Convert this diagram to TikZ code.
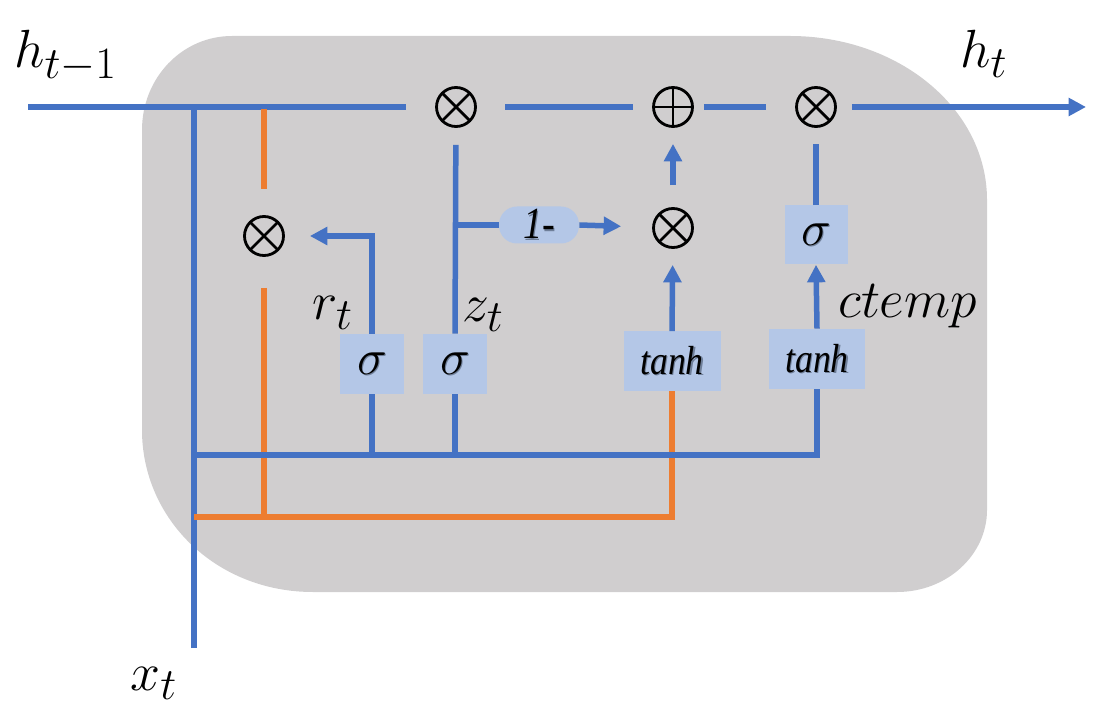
\documentclass[tikz,border=0pt]{standalone}
\usepackage{graphicx}
\usepackage{fontspec}
\setmainfont{Liberation Serif}
\usetikzlibrary{arrows.meta,calc}
\definecolor{lblue}{HTML}{4472C4}
\definecolor{lorange}{HTML}{ED7D31}
\definecolor{boxfill}{HTML}{B4C7E7}
\definecolor{cellgray}{HTML}{D0CECF}
\definecolor{shadowcol}{HTML}{6F7F99}
\newcommand{\biglbl}[1]{\scalebox{1.23}{$#1$}}
\newcommand{\shadowed}[1]{\makebox[0pt][l]{\raisebox{-0.9pt}{\hspace{0.9pt}\textcolor{shadowcol}{#1}}}#1}
\newcommand{\sig}{\shadowed{\scalebox{1.15}{$\sigma$}}}
\tikzset{
  wire/.style={draw=lblue,line width=0.11cm},
  owire/.style={draw=lorange,line width=0.11cm},
  arr/.style={-{Triangle[length=0.35cm,width=0.35cm]}},
  opnode/.style={circle,draw=black,line width=1.6pt,minimum size=0.78cm,inner sep=0pt},
  mult/.style={opnode,path picture={
      \draw[line width=1.6pt] (path picture bounding box.north west) -- (path picture bounding box.south east)
        (path picture bounding box.north east) -- (path picture bounding box.south west);}},
  plus/.style={opnode,path picture={
      \draw[line width=1.6pt] (path picture bounding box.north) -- (path picture bounding box.south)
        (path picture bounding box.east) -- (path picture bounding box.west);}},
  gatebox/.style={fill=boxfill,inner sep=0pt,font=\fontsize{21}{23}\selectfont\itshape},
  sigbox/.style={gatebox,font=\fontsize{24.88}{27}\selectfont},
  lbl/.style={inner sep=0pt,font=\fontsize{24.88}{27}\selectfont},
}
\begin{document}
\begin{tikzpicture}[x=0.02cm,y=-0.02cm]
\useasboundingbox (0,0) rectangle (1104,712);
% cell background
\fill[cellgray] (142,130) .. controls (142,78) and (182,36) .. (232,36)
  -- (790,36) .. controls (899,36) and (987,109) .. (987,200)
  -- (987,510) .. controls (987,555) and (947,592) .. (897,592)
  -- (313,592) .. controls (216,592) and (142,519) .. (142,430) -- cycle;

% operator nodes
\node[mult] (m1) at (456,107) {};
\node[plus] (add) at (673,107) {};
\node[mult] (m3) at (816,107) {};
\node[mult] (mr) at (264,236) {};
\node[mult] (m2) at (673,228) {};

% gate boxes
\node[sigbox,minimum width=64*0.02cm,minimum height=60*0.02cm] (sr) at (372,364) {\sig};
\node[sigbox,minimum width=64*0.02cm,minimum height=60*0.02cm] (sz) at (455,364) {\sig};
\node[gatebox,minimum width=97*0.02cm,minimum height=59*0.02cm] (th1) at (672,361) {\shadowed{\scalebox{0.97}[1.1]{tanh}}};
\node[gatebox,minimum width=96*0.02cm,minimum height=60*0.02cm] (th2) at (817,359) {\shadowed{\scalebox{0.97}[1.1]{tanh}}};
\node[sigbox,minimum width=63*0.02cm,minimum height=59*0.02cm] (so) at (816,235) {\sig};
\node[gatebox,font=\fontsize{23}{25}\selectfont\itshape,rounded corners=0.36cm,minimum width=80*0.02cm,minimum height=37*0.02cm] (one) at (539,225) {\shadowed{\scalebox{0.95}[1.1]{1-}}};

% labels
\node[lbl,anchor=base west] (lh1) at (14,68) {\biglbl{h_{t-1}}};
\node[lbl,anchor=base west] (lh) at (960,68) {\biglbl{h_t}};
\node[lbl,anchor=base west] (lr) at (312,320) {\biglbl{r_t}};
\node[lbl,anchor=base west] (lz) at (462,322) {\biglbl{z_t}};
\node[lbl,anchor=base west] (lx) at (130,690) {\biglbl{x_t}};
\node[lbl,anchor=base west] (lc) at (838,318) {\biglbl{ctemp}};

% free-end coordinates
\coordinate (hin) at (28,107);
\coordinate (hout) at (1086,107);
\coordinate (xin) at (194,648);
\coordinate (xtop) at (194,107);
\coordinate (otop) at (264,109);
\coordinate (obot) at (264,517);
\coordinate (oleft) at (194,517);
\coordinate (bleft) at (194,455);
\coordinate (zbr) at (455,225);

% top line
\draw[wire,shorten >=0.58cm] (hin) -- (m1);
\draw[wire,shorten <=0.57cm,shorten >=0.38cm] (m1) -- (add);
\draw[wire,shorten <=0.2cm,shorten >=0.58cm] (add) -- (m3);
\draw[wire,arr,shorten <=0.3cm] (m3) -- (hout);

% x_t input
\draw[wire] (xin) -- (xtop);

% reset gate
\draw[wire,arr,shorten >=0.5cm] (sr.north) |- (mr);
\draw[wire] (sr.south) -- (sr.south |- bleft);

% update gate
\draw[wire,shorten >=0.34cm] (sz.north) -- (m1);
\draw[wire] (sz.south) -- (sz.south |- bleft);
\draw[wire] (zbr) -- (one.west);
\draw[wire,arr,shorten >=0.62cm] (one.east) -- (m2);
\draw[wire,arr,shorten <=0.44cm,shorten >=0.32cm] (m2) -- (add);

% candidate
\draw[wire,arr,shorten >=0.32cm] (th1.north) -- (m2);
\draw[owire,shorten >=0.52cm] (otop) -- (mr);
\draw[owire,shorten <=0.62cm] (mr) -- (obot);
\draw[owire] (oleft) -| (th1.south);

% output gate
\draw[wire,arr] (th2.north) -- (so.south);
\draw[wire,shorten >=0.32cm] (so.north) -- (m3);
\draw[wire] (bleft) -| (th2.south);
\end{tikzpicture}
\end{document}
